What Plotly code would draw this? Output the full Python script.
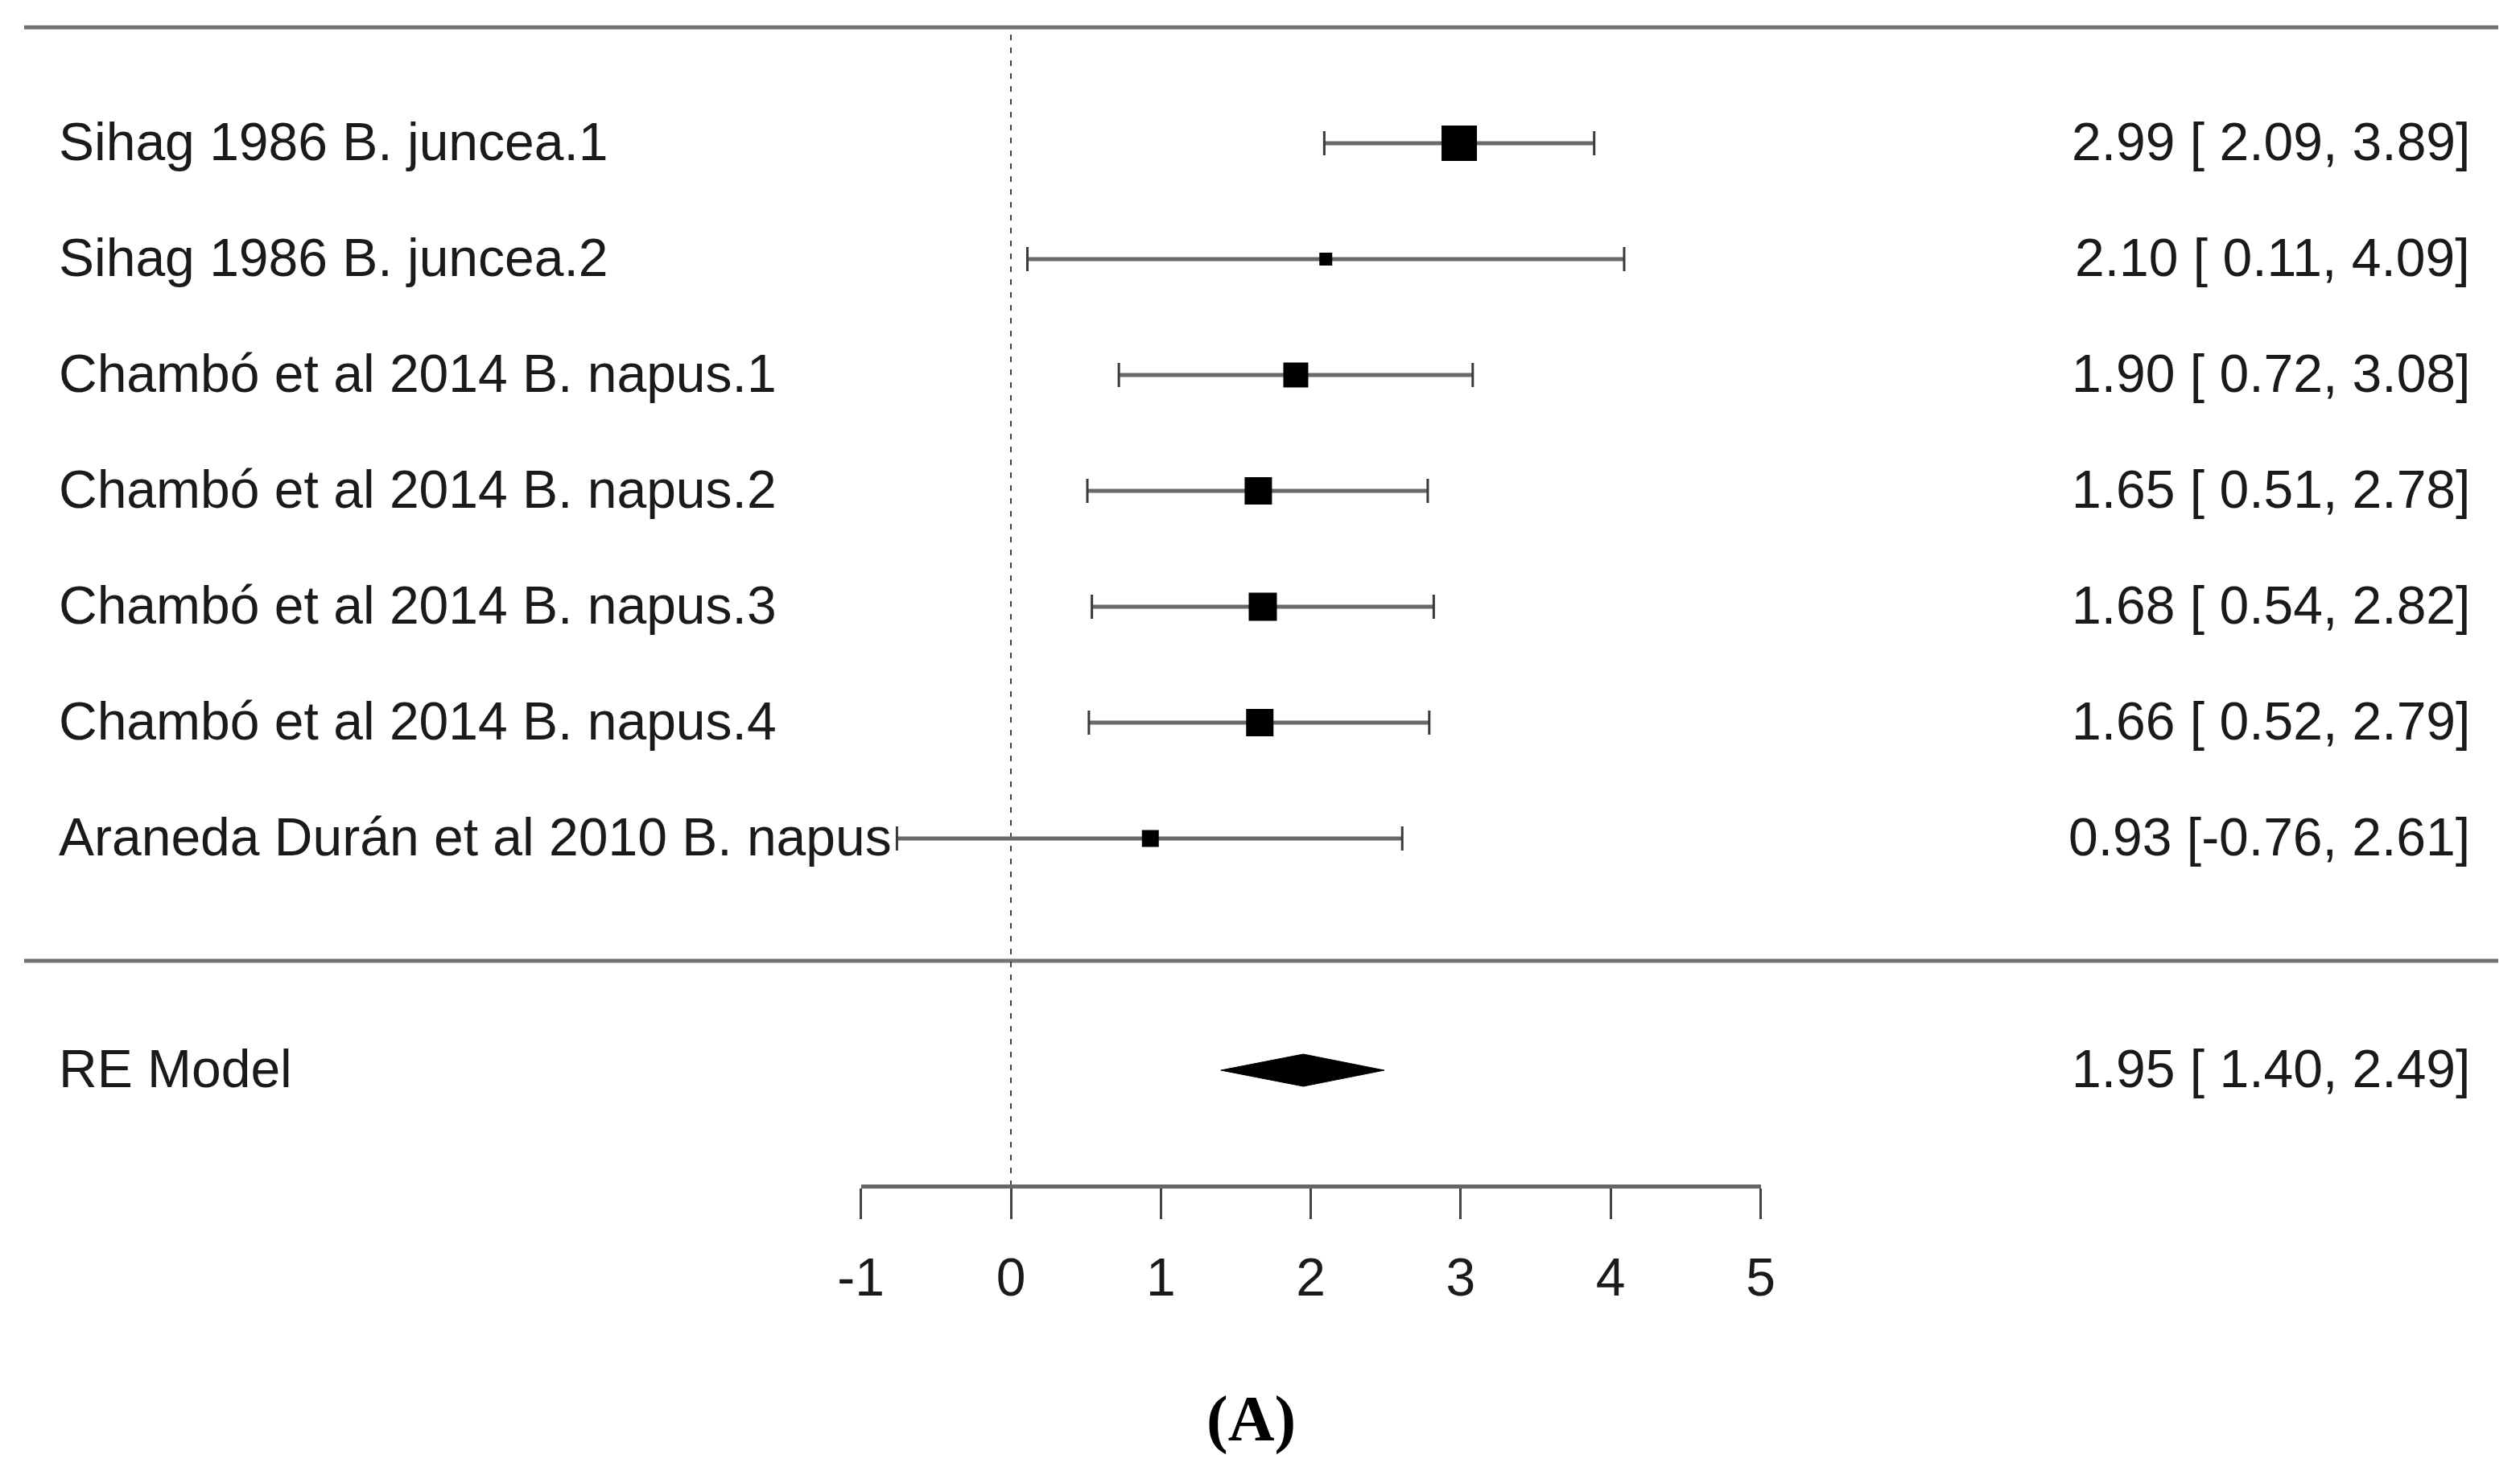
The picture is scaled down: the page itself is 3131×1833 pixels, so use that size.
import plotly.graph_objects as go

# ---- data ----
studies = [
    "Sihag 1986 B. juncea.1",
    "Sihag 1986 B. juncea.2",
    "Chambó et al 2014 B. napus.1",
    "Chambó et al 2014 B. napus.2",
    "Chambó et al 2014 B. napus.3",
    "Chambó et al 2014 B. napus.4",
    "Araneda Durán et al 2010 B. napus",
]
estimates = [2.99, 2.10, 1.90, 1.65, 1.68, 1.66, 0.93]
ci_lower = [2.09, 0.11, 0.72, 0.51, 0.54, 0.52, -0.76]
ci_upper = [3.89, 4.09, 3.08, 2.78, 2.82, 2.79, 2.61]
weights_px = [44, 16, 31, 34, 35, 34, 21]  # square sizes (relative weights)

model_label = "RE Model"
model_est = 1.95
model_lo = 1.40
model_hi = 2.49

tick_vals = [-1, 0, 1, 2, 3, 4, 5]
tick_text = ["-1", "0", "1", "2", "3", "4", "5"]
panel_label = "(A)"

# ---- geometry (figure pixels -> data) ----
W, H = 3131, 1833
OFF = 8  # page body margin offset
X0_PX, UNIT_PX = 1256.0 - OFF, 186.3      # pixel of x=0, pixels per x unit
ROW1_PX, ROW_PX = 1042.0 - OFF, 144.0     # pixel of row y=1, pixels per row
x_range = [(0 - X0_PX) / UNIT_PX, (W - X0_PX) / UNIT_PX]
y_range = [1 - (H - ROW1_PX) / ROW_PX, 1 + ROW1_PX / ROW_PX]

k = len(studies)
rows = list(range(k, 0, -1))
model_row = -1
axis_row = -2
top_row = k + 1
sep_row = 1 - (1194 - OFF - ROW1_PX) / ROW_PX
line_left = (30 - OFF - X0_PX) / UNIT_PX
line_right = (3104 - OFF - X0_PX) / UNIT_PX
cap_h = 15 / ROW_PX
diamond_h = 20 / ROW_PX

FONT = "Liberation Sans, Arial, sans-serif"
FS = 66
TXT = "#1a1a1a"

fig = go.Figure()

# horizontal separators (top and above summary)
for yy in (top_row, sep_row):
    fig.add_trace(go.Scatter(x=[line_left, line_right], y=[yy, yy], mode="lines",
                             line=dict(color="#737373", width=5), hoverinfo="skip"))

# reference line at 0
fig.add_trace(go.Scatter(x=[0, 0], y=[axis_row, top_row], mode="lines",
                         line=dict(color="#444444", width=2, dash="7px,9px"), hoverinfo="skip"))

# CI lines and caps
for lo, hi, r in zip(ci_lower, ci_upper, rows):
    fig.add_trace(go.Scatter(x=[lo, hi], y=[r, r], mode="lines",
                             line=dict(color="#6a6a6a", width=5), hoverinfo="skip"))
    for xv in (lo, hi):
        fig.add_trace(go.Scatter(x=[xv, xv], y=[r - cap_h, r + cap_h], mode="lines",
                                 line=dict(color="#3a3a3a", width=3), hoverinfo="skip"))

# squares
fig.add_trace(go.Scatter(x=estimates, y=rows, mode="markers",
                         marker=dict(symbol="square", size=weights_px, color="black", opacity=1,
                                     line=dict(width=0)), hoverinfo="skip"))

# summary diamond
fig.add_trace(go.Scatter(
    x=[model_lo, model_est, model_hi, model_est, model_lo],
    y=[model_row, model_row + diamond_h, model_row, model_row - diamond_h, model_row],
    mode="lines", fill="toself", fillcolor="black", line=dict(color="black", width=1),
    hoverinfo="skip"))

# study labels and estimate text (R-style aligned formatting)
all_est = estimates + [model_est]
all_lo = ci_lower + [model_lo]
all_hi = ci_upper + [model_hi]
w_est = max(len(f"{v:.2f}") for v in all_est)
w_lo = max(len(f"{v:.2f}") for v in all_lo)
w_hi = max(len(f"{v:.2f}") for v in all_hi)
est_text = [f"{e:{w_est}.2f} [{l:{w_lo}.2f}, {h:{w_hi}.2f}]" for e, l, h in zip(all_est, all_lo, all_hi)]

labels_all = studies + [model_label]
rows_all = rows + [model_row]

for lab, r, et in zip(labels_all, rows_all, est_text):
    fig.add_annotation(x=(72 - OFF) / W, xref="paper", y=r, yref="y", text=lab, showarrow=False,
                       xanchor="left", yanchor="middle", borderpad=0, yshift=2,
                       font=dict(family=FONT, size=FS, color=TXT))
    fig.add_annotation(x=(3070 - OFF) / W, xref="paper", y=r, yref="y", text=et.replace(" ", "&nbsp;"),
                       showarrow=False, xanchor="right", yanchor="middle", borderpad=0, yshift=2,
                       font=dict(family=FONT, size=FS, color=TXT))

# bottom axis (real axis spanning -1..5)
fig.add_trace(go.Scatter(x=tick_vals, y=[axis_row] * len(tick_vals), xaxis="x2", yaxis="y",
                         mode="markers", marker=dict(opacity=0), hoverinfo="skip"))

fig.add_annotation(x=(1554 - OFF) / W, xref="paper", y=1 - (1763 - OFF) / H, yref="paper",
                   text="<b>" + panel_label + "</b>",
                   showarrow=False, xanchor="center", yanchor="middle",
                   font=dict(family="Liberation Serif, Times New Roman, serif", size=80, color="black"))

ax_left = (tick_vals[0] * UNIT_PX + X0_PX) / W
ax_right = (tick_vals[-1] * UNIT_PX + X0_PX) / W
axis_pos = 1 - (ROW1_PX + (1 - axis_row) * ROW_PX) / H

fig.update_layout(
    width=W, height=H,
    margin=dict(l=0, r=0, t=0, b=0, pad=0, autoexpand=False),
    paper_bgcolor="white", plot_bgcolor="rgba(0,0,0,0)",
    showlegend=False,
    xaxis=dict(range=x_range, visible=False, domain=[0, 1], automargin=False),
    yaxis=dict(range=y_range, visible=False, domain=[0, 1], automargin=False),
    xaxis2=dict(domain=[ax_left, ax_right], range=[tick_vals[0], tick_vals[-1]],
                anchor="free", position=axis_pos, side="bottom", automargin=False,
                showline=True, linecolor="#666666", linewidth=5,
                ticks="outside", ticklen=38, tickwidth=2.5, tickcolor="#444444",
                tickvals=tick_vals, ticktext=tick_text, showgrid=False, zeroline=False,
                tickfont=dict(family=FONT, size=FS, color=TXT), ticklabelstandoff=16),
)

fig.write_html("out.html")
